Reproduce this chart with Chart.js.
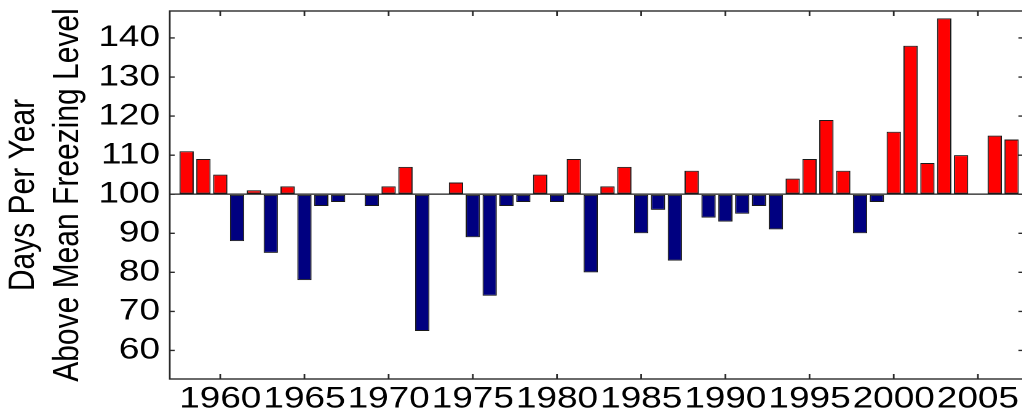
<!DOCTYPE html>
<html>
<head>
<meta charset="utf-8">
<script src="https://cdn.jsdelivr.net/npm/chart.js@4.4.1/dist/chart.umd.min.js"></script>
<style>
  html, body { margin: 0; padding: 0; background: #fff; overflow: hidden; }
  /* the reference is stretched sideways, so the whole chart is too */
  #wrap { width: 832px; height: 413px; transform: scaleX(1.23); transform-origin: 0 0; }
</style>
</head>
<body>
<div id="wrap"><canvas id="freezeChart" width="832" height="413"></canvas></div>
<script>
// years 1958 - 2007, null = no bar
const years = [
  1958, 1959, 1960, 1961, 1962, 1963, 1964, 1965, 1966, 1967,
  1968, 1969, 1970, 1971, 1972, 1973, 1974, 1975, 1976, 1977,
  1978, 1979, 1980, 1981, 1982, 1983, 1984, 1985, 1986, 1987,
  1988, 1989, 1990, 1991, 1992, 1993, 1994, 1995, 1996, 1997,
  1998, 1999, 2000, 2001, 2002, 2003, 2004, 2005, 2006, 2007
];
const daysAbove = [
  111, 109, 105, 88, 101, 85, 102, 78, 97, 98,
  null, 97, 102, 107, 65, null, 103, 89, 74, 97,
  98, 105, 98, 109, 80, 102, 107, 90, 96, 83,
  106, 94, 93, 95, 97, 91, 104, 109, 119, 106,
  90, 98, 116, 138, 108, 145, 110, null, 115, 114
];
const baseline = 100;
const yTickValues = [60, 70, 80, 90, 100, 110, 120, 130, 140];
const xTickYears = [1960, 1965, 1970, 1975, 1980, 1985, 1990, 1995, 2000, 2005];
const yTitleLines = ['Days Per Year', 'Above Mean Freezing Level'];

const FONT = "'Liberation Sans', Arial, sans-serif";

// box round the plot with inward ticks on all four sides
const frameTicks = {
  id: 'frameTicks',
  afterDatasetsDraw(chart) {
    const { ctx, chartArea: a, scales: { x, y } } = chart;
    ctx.save();
    ctx.strokeStyle = '#2a2a2a';
    ctx.lineWidth = 1.4;
    ctx.beginPath();
    x.ticks.forEach(t => {
      const px = x.getPixelForValue(t.value);
      ctx.moveTo(px, a.top); ctx.lineTo(px, a.top + 5);
      ctx.moveTo(px, a.bottom); ctx.lineTo(px, a.bottom - 5);
    });
    y.ticks.forEach(t => {
      const py = y.getPixelForValue(t.value);
      ctx.moveTo(a.left, py); ctx.lineTo(a.left + 4, py);
      ctx.moveTo(a.right, py); ctx.lineTo(a.right - 4, py);
    });
    ctx.stroke();
    ctx.strokeRect(a.left, a.top, a.right - a.left, a.bottom - a.top);
    ctx.restore();
  }
};

new Chart(document.getElementById('freezeChart'), {
  type: 'bar',
  data: {
    datasets: [{
      data: years.map((yr, i) => ({ x: yr, y: daysAbove[i] })),
      base: baseline,
      backgroundColor: c => (c.raw && c.raw.y >= baseline) ? '#ff0000' : '#000080',
      borderColor: '#1a1a1a',
      borderWidth: 1,
      borderSkipped: false,
      categoryPercentage: 1,
      barPercentage: 0.85
    }]
  },
  options: {
    responsive: false,
    devicePixelRatio: 2,
    animation: false,
    layout: { padding: 0 },
    plugins: { legend: { display: false }, tooltip: { enabled: false } },
    scales: {
      x: {
        type: 'linear',
        min: 1957,
        max: 2007.7,
        offset: false,
        grid: { display: false, drawTicks: false },
        border: { display: false },
        afterBuildTicks: s => { s.ticks = xTickYears.map(v => ({ value: v })); },
        afterFit: s => { s.height = 34; s.paddingLeft = 0; s.paddingRight = 0; },
        ticks: {
          callback: v => String(v),
          font: { family: FONT, size: 30 },
          color: '#000',
          padding: 2,
          maxRotation: 0,
          autoSkip: false
        }
      },
      y: {
        min: 52.7,
        max: 146.9,
        grid: {
          drawTicks: false,
          color: c => c.tick && c.tick.value === baseline ? '#1a1a1a' : 'rgba(0,0,0,0)',
          lineWidth: 1.2
        },
        border: { display: false },
        afterBuildTicks: s => { s.ticks = yTickValues.map(v => ({ value: v })); },
        afterFit: s => { s.width = 138; s.paddingTop = 11; s.paddingBottom = 0; },
        ticks: {
          callback: v => String(v),
          font: { family: FONT, size: 30 },
          color: '#000',
          padding: 8
        },
        title: {
          display: true,
          text: yTitleLines,
          font: { family: FONT, size: 30 },
          color: '#000',
          padding: { top: 1, bottom: 0 }
        }
      }
    }
  },
  plugins: [frameTicks]
});
</script>
</body>
</html>
